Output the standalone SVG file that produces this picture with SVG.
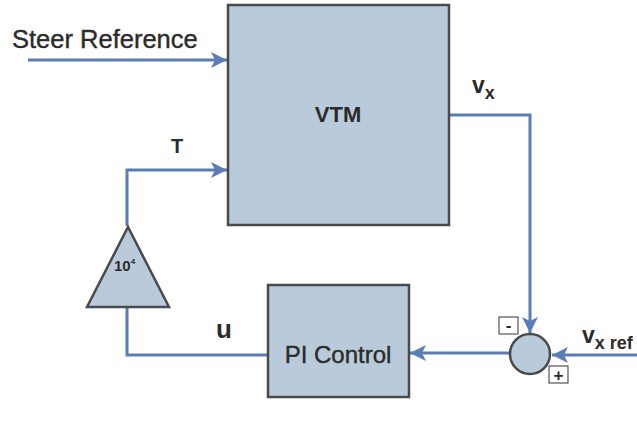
<svg xmlns="http://www.w3.org/2000/svg" width="637" height="429" viewBox="0 0 637 429">
<defs>
<style>
.blk{fill:#b9cbdb;stroke:#4a4a4a;stroke-width:2.5}
.con{fill:none;stroke:#5a7db5;stroke-width:3}
.t{font-family:"Liberation Sans",Arial,sans-serif;fill:#2b2b2b;stroke:#2b2b2b;stroke-width:0.4}
.b{font-weight:bold;stroke-width:0}
.sgn{fill:#fff;stroke:#333;stroke-width:1}
</style>
<marker id="ah" markerUnits="userSpaceOnUse" markerWidth="20" markerHeight="20" refX="16" refY="8" orient="auto">
<path d="M0,0 L16,8 L0,16 L4,8 Z" fill="#5a7db5"/>
</marker>
</defs>
<rect width="637" height="429" fill="#fff"/>
<g id="connectors">
<path class="con" d="M28,60 H227" marker-end="url(#ah)"/>
<path class="con" d="M127,226 V170 H227" marker-end="url(#ah)"/>
<path class="con" d="M450,115 H530 V333" marker-end="url(#ah)"/>
<path class="con" d="M637,355 H552" marker-end="url(#ah)"/>
<path class="con" d="M510,353 H410" marker-end="url(#ah)"/>
<path class="con" d="M267,355 H127 V307"/>
</g>
<g id="vtm">
<rect class="blk" x="228" y="5" width="221" height="220"/>
<text class="t b" x="338" y="122" font-size="22" text-anchor="middle">VTM</text>
</g>
<g id="pi">
<rect class="blk" x="268" y="285" width="141" height="112"/>
<text class="t" x="338" y="363" font-size="24" text-anchor="middle">PI Control</text>
</g>
<g id="gain">
<polygon class="blk" points="128,227 169,307 87,307"/>
<text class="t b" x="114" y="271" font-size="15">10<tspan font-size="8" dy="-7">4</tspan></text>
</g>
<g id="sum">
<circle class="blk" cx="530" cy="354" r="20"/>
<rect class="sgn" x="499" y="317" width="19" height="17"/>
<text class="t b" x="508.5" y="331" font-size="17" text-anchor="middle">-</text>
<rect class="sgn" x="549" y="366" width="19" height="17"/>
<text class="t b" x="558.5" y="381" font-size="17" text-anchor="middle">+</text>
</g>
<g id="labels">
<text class="t" x="12" y="48" font-size="25.5">Steer Reference</text>
<text class="t b" x="171" y="153" font-size="20">T</text>
<text class="t b" x="472" y="93" font-size="23">v<tspan font-size="18" dy="6">x</tspan></text>
<text class="t b" x="216" y="338" font-size="26">u</text>
<text class="t b" x="582" y="343" font-size="23">v<tspan font-size="18" dy="6">x ref</tspan></text>
</g>
</svg>
